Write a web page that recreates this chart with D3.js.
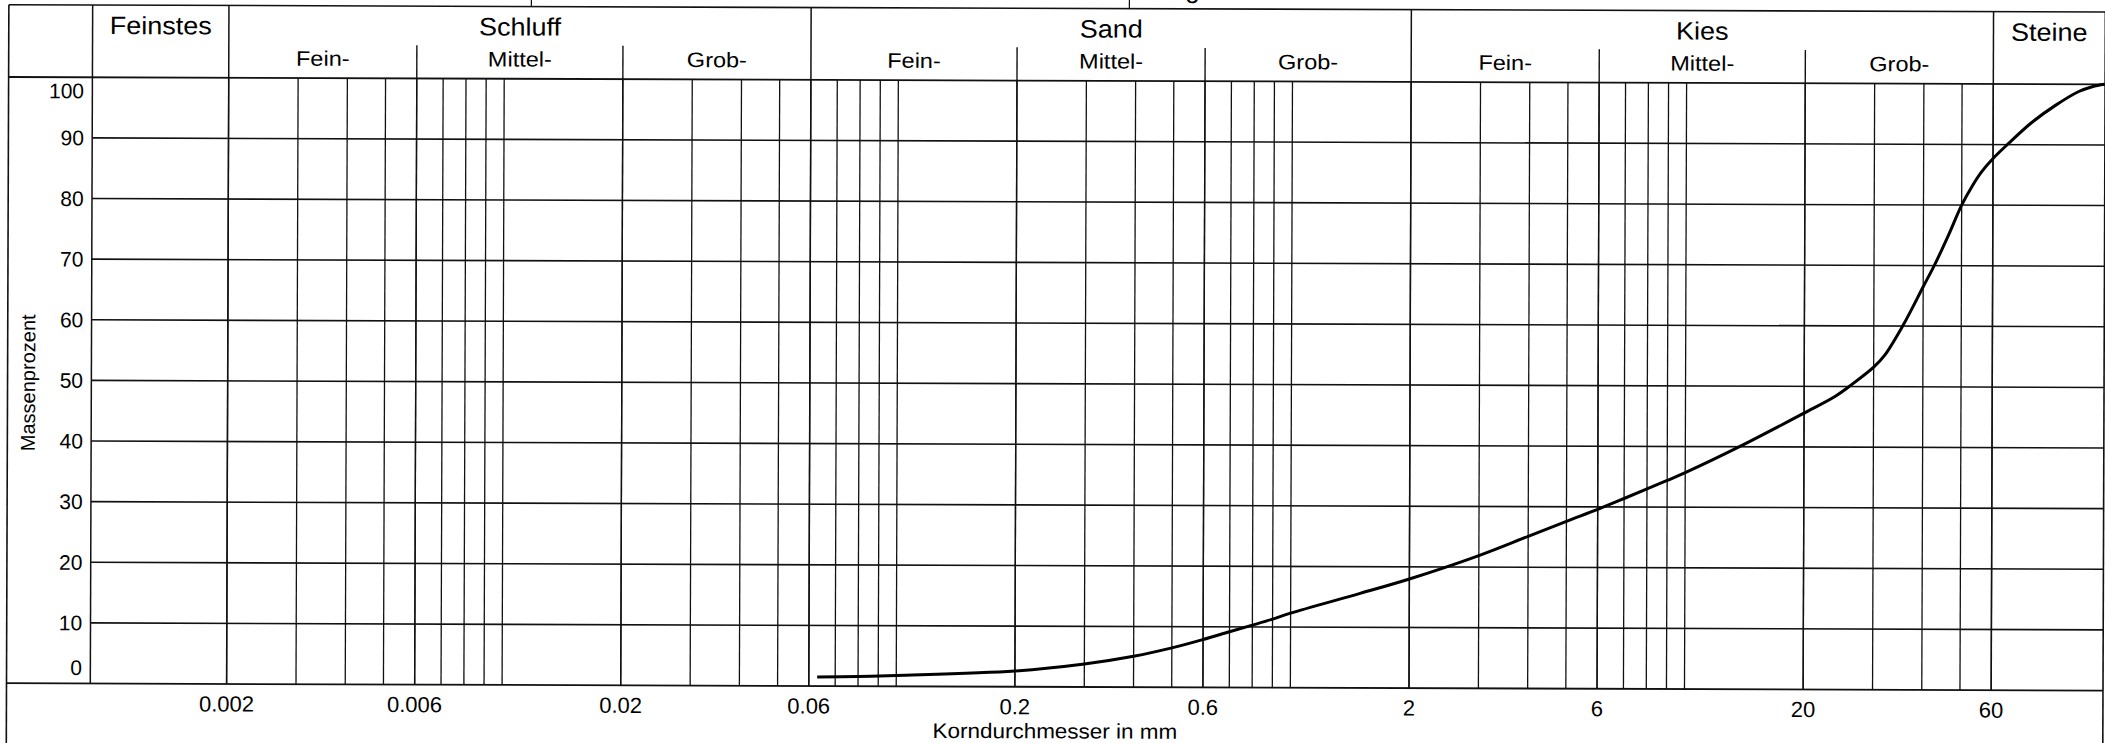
<!DOCTYPE html>
<html><head><meta charset="utf-8">
<script src="https://cdn.jsdelivr.net/npm/d3@7"></script>
<style>html,body{margin:0;padding:0;background:#fff;} svg{display:block;font-family:"Liberation Sans",Arial,Helvetica,sans-serif;}</style>
</head><body><svg id="chart" width="2105" height="743"></svg>
<script>
// ---- data ----
const grainSize = [0.063, 0.08, 0.1, 0.2, 0.3, 0.4, 0.5, 0.6, 0.7, 0.8, 0.9, 1, 1.5, 2, 3, 4, 5, 6, 7, 8, 9, 10, 13.8, 20, 24, 26, 30, 32, 35.5, 40, 42.8, 46.3, 50, 53, 56, 60, 65.7, 75.3, 86.3, 98.9, 107, 115];
const passing   = [1.5, 1.6, 1.8, 2.6, 3.8, 5.1, 6.5, 7.9, 9.2, 10.3, 11.3, 12.3, 15.6, 18.0, 21.9, 25.1, 27.6, 29.6, 31.4, 33.0, 34.4, 35.7, 40.1, 45.6, 48.4, 50.0, 53.2, 55.2, 60.0, 66.5, 70.2, 75.0, 80.0, 83.0, 85.4, 87.7, 90.2, 93.7, 96.5, 98.8, 99.6, 100];

const fractionNames  = ["Feinstes", "Schluff", "Sand", "Kies", "Steine"];
const fractionBounds = [0.000902, 0.002, 0.06, 2, 60, 115.3];
const subNames  = ["Fein-", "Mittel-", "Grob-"];
const subBounds = [[0.002, 0.006, 0.02, 0.06], [0.06, 0.2, 0.6, 2], [2, 6, 20, 60]];
const gridSizes = [0.002,0.003,0.004,0.005,0.006,0.007,0.008,0.009,0.01,
                   0.02,0.03,0.04,0.05,0.06,0.07,0.08,0.09,0.1,
                   0.2,0.3,0.4,0.5,0.6,0.7,0.8,0.9,1,
                   2,3,4,5,6,7,8,9,10,
                   20,30,40,50,60];
const xTickValues = [0.002, 0.006, 0.02, 0.06, 0.2, 0.6, 2, 6, 20, 60];
const xTickLabels = ["0.002", "0.006", "0.02", "0.06", "0.2", "0.6", "2", "6", "20", "60"];
const yTickValues = [0, 10, 20, 30, 40, 50, 60, 70, 80, 90, 100];
const xTitle = "Korndurchmesser in mm";
const yTitle = "Massenprozent";
const cutTitleFragment = "g"; // only the descender of a title above the frame is visible in the reference

// ---- layout ----
const X0 = 90.3, X1 = 2103, Y100 = 77.3, Y0 = 683.5;
const LEFT = 6.5, TOP = 5, SUBTOP = 44;
const x = d3.scaleLog().domain([fractionBounds[0], fractionBounds[fractionBounds.length-1]]).range([X0, X1]);
const y = d3.scaleLinear().domain([0, 100]).range([Y0, Y100]);

const svg = d3.select("#chart");
svg.append("rect").attr("width", 2105).attr("height", 743).attr("fill", "#fff");
const g = svg.append("g").attr("transform", `rotate(0.2 ${X0} ${Y0})`);

const ink = "#111";
function line(x1, y1, x2, y2, w) {
  g.append("line").attr("x1", x1).attr("y1", y1).attr("x2", x2).attr("y2", y2)
    .attr("stroke", ink).attr("stroke-width", w || 1.4);
}
function label(txt, cx, by, size, anchor, sx) {
  g.append("text").attr("transform", `translate(${cx},${by}) scale(${sx || 1},1)`)
    .attr("text-anchor", anchor || "middle").attr("font-size", size).attr("fill", "#000").text(txt);
}

// frame
line(LEFT, TOP, X1, TOP, 1.6);
line(LEFT, TOP, LEFT, 760, 1.6);
line(X1, TOP, X1, 760, 1.6);
line(LEFT, Y100, X1, Y100, 1.8);
line(LEFT, Y0, X1, Y0, 1.8);
// stubs and cropped title fragment above top line
line(529, -5, 529, TOP, 1.2);
line(1127, -5, 1127, TOP, 1.2);
label(cutTitleFragment, 1190, -6, 26, "middle", 1);

// horizontal grid
yTickValues.filter(v => v > 0 && v < 100).forEach(v => line(X0, y(v), X1, y(v), 1.6));

// vertical minor grid
gridSizes.forEach(d => line(x(d), Y100, x(d), Y0, 1.3));
// sub-fraction dividers
subBounds.forEach(b => [b[1], b[2]].forEach(d => line(x(d), SUBTOP, x(d), Y0, 1.4)));
// main fraction dividers
fractionBounds.slice(0, 5).forEach(d => line(x(d), TOP, x(d), Y0, 1.5));

// header labels
fractionNames.forEach((n, i) => {
  const cx = (x(fractionBounds[i]) + x(fractionBounds[i+1])) / 2;
  label(n, cx, 34, 25, "middle", 1.08);
});
subBounds.forEach(b => {
  for (let k = 0; k < 3; k++) {
    const cx = (x(b[k]) + x(b[k+1])) / 2;
    label(subNames[k], cx, 65, 21, "middle", 1.12);
  }
});

// y tick labels
yTickValues.forEach(v => {
  let by = y(v) + 7.5;
  if (v === 100) by = y(v) + 21;
  if (v === 0) by = y(v) - 8.5;
  label(String(v), 82, by, 21, "end", 1);
});
// x tick labels
xTickValues.forEach((v, i) => label(xTickLabels[i], x(v), 711, 22, "middle", 1));

// axis titles
label(xTitle, 1055, 735, 21, "middle", 1.07);
g.append("text").attr("transform", "translate(34,383) rotate(-90)")
  .attr("text-anchor", "middle").attr("font-size", 20).attr("fill", "#000").text(yTitle);

// grading curve
const pts = grainSize.map((d, i) => [d, passing[i]]);
g.append("path").datum(pts)
  .attr("fill", "none").attr("stroke", "#000").attr("stroke-width", 3)
  .attr("stroke-linejoin", "round").attr("stroke-linecap", "butt")
  .attr("d", d3.line().x(p => x(p[0])).y(p => y(p[1])).curve(d3.curveCatmullRom.alpha(0.5)));
</script></body></html>
